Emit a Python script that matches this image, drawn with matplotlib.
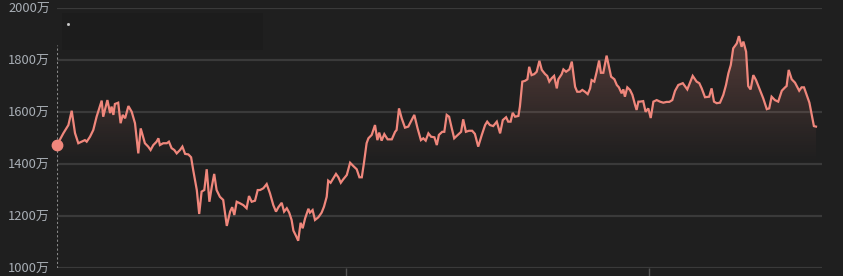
import numpy as np
import matplotlib.pyplot as plt
from matplotlib.patches import Rectangle
from matplotlib.path import Path

plt.rcParams['font.family'] = ['Noto Sans CJK SC', 'DejaVu Sans']

# 数据: 交易日序号, 金额(万)
days = [0, 2.1, 3.8, 4.9, 6, 7.1, 8.2, 9.3, 9.9, 11, 12.1, 13.2, 14.9, 15.4, 16.8, 17.7,
        18.2, 18.8, 19.3, 20.4, 21.2, 21.9, 22.7, 23.8, 24.9, 26, 27.1, 27.9, 29.3, 30.4,
        31.2, 32.1, 33.2, 33.8, 34.3, 35.4, 36.6, 37.3, 38.2, 39.1, 39.9, 41, 41.8, 42.7,
        43.8, 44.7, 45.4, 46.6, 47.4, 48.2, 49.1, 49.9, 50.8, 51.6, 52.4, 53.2, 54.3, 55.4,
        56.6, 57.7, 58.4, 59.1, 59.9, 61, 62.1, 63.2, 64, 64.9, 66, 66.9, 67.7, 68.8, 69.9,
        71, 72.1, 73, 73.8, 74.9, 75.7, 76.6, 77.4, 78.2, 78.8, 79.7, 80.4, 81.2, 81.9, 82.7,
        83.8, 84.3, 85.2, 86, 87.1, 88.2, 89, 89.9, 90.4, 91.2, 92.1, 93, 93.8, 94.6, 95.4,
        96.6, 97.7, 98.8, 99.9, 100.8, 101.6, 102.3, 103.2, 103.8, 104.9, 106, 106.8, 107.4,
        108.2, 109.1, 110.2, 111.6, 112.7, 113.2, 114, 114.9, 116, 117.1, 118.2, 119.1,
        120.2, 121.3, 122.1, 122.9, 123.8, 124.7, 125.8, 126.6, 127.3, 128.4, 129.1, 129.9,
        130.7, 131.6, 132.4, 133.6, 134.7, 135.4, 136.3, 137.3, 138.4, 139.3, 140.4, 141.6,
        142.7, 143.4, 144.3, 145.4, 146.6, 147.7, 148.6, 149.7, 150.4, 151.2, 151.9, 152.7,
        153.8, 154.3, 155.1, 156, 156.8, 157.4, 158.2, 159.1, 159.9, 160.8, 161.6, 162.7,
        163.4, 164.1, 164.9, 165.7, 166.6, 167.1, 168.2, 168.8, 169.7, 170.8, 171.6, 172.7,
        173.4, 174.3, 175.1, 176, 176.9, 177.7, 178.2, 179.1, 179.9, 180.7, 181.3, 182.1,
        183.2, 184, 184.7, 185.8, 186.6, 187.3, 188.2, 188.8, 189.3, 190.1, 191, 191.8,
        192.7, 193.2, 193.8, 194.3, 195.4, 196.2, 197.1, 197.9, 198.8, 199.9, 201, 202.1,
        203.2, 204.1, 205.1, 206, 207.1, 208.6, 210.1, 211.9, 213.2, 214.1, 214.9, 216,
        217.4, 218.2, 219, 219.9, 221, 222.1, 223, 223.8, 224.6, 225.4, 226.6, 227.3, 228.2,
        228.8, 229.7, 230.4, 231.2, 232.1, 233, 234.1, 235.4, 236.6, 237.4, 238.2, 239.3,
        240.4, 241.6, 242.7, 243.2, 243.9, 244.9, 246, 246.8, 247.4, 248.2, 249, 249.9,
        250.8, 251.6, 252.3, 253]
values = [1474, 1519, 1551, 1606, 1520, 1481, 1487, 1493, 1487, 1506, 1532, 1583, 1645, 1583,
          1647, 1597, 1622, 1590, 1632, 1637, 1558, 1590, 1577, 1624, 1602, 1558, 1442, 1538,
          1481, 1468, 1455, 1474, 1487, 1500, 1474, 1481, 1481, 1487, 1462, 1455, 1442, 1455,
          1468, 1440, 1438, 1427, 1378, 1301, 1209, 1295, 1301, 1381, 1256, 1314, 1363, 1301,
          1275, 1263, 1163, 1218, 1235, 1205, 1256, 1250, 1243, 1231, 1278, 1256, 1260, 1301,
          1301, 1308, 1324, 1288, 1243, 1218, 1235, 1252, 1218, 1231, 1214, 1186, 1145, 1124,
          1106, 1175, 1154, 1192, 1229, 1214, 1224, 1186, 1196, 1214, 1237, 1275, 1337, 1329,
          1346, 1363, 1350, 1329, 1342, 1359, 1406, 1393, 1381, 1350, 1350, 1404, 1481, 1500,
          1513, 1551, 1493, 1522, 1491, 1516, 1496, 1496, 1525, 1532, 1615, 1577, 1541, 1545,
          1570, 1590, 1538, 1493, 1500, 1491, 1519, 1506, 1504, 1474, 1513, 1525, 1525, 1590,
          1583, 1538, 1500, 1513, 1525, 1573, 1525, 1529, 1529, 1517, 1468, 1513, 1551, 1564,
          1551, 1547, 1564, 1519, 1570, 1581, 1564, 1564, 1598, 1583, 1586, 1622, 1718, 1721,
          1727, 1775, 1743, 1747, 1756, 1798, 1763, 1747, 1740, 1718, 1731, 1740, 1692, 1727,
          1746, 1765, 1756, 1765, 1795, 1698, 1679, 1679, 1686, 1679, 1670, 1692, 1724, 1718,
          1756, 1799, 1752, 1752, 1818, 1775, 1737, 1727, 1705, 1696, 1673, 1688, 1660, 1696,
          1686, 1667, 1628, 1609, 1641, 1641, 1643, 1602, 1615, 1578, 1641, 1647, 1641, 1637,
          1640, 1640, 1647, 1682, 1705, 1712, 1688, 1740, 1718, 1712, 1692, 1658, 1660, 1692,
          1641, 1635, 1637, 1667, 1705, 1750, 1782, 1846, 1865, 1893, 1852, 1872, 1833, 1701,
          1688, 1743, 1724, 1692, 1654, 1612, 1615, 1660, 1647, 1641, 1683, 1696, 1701, 1763,
          1727, 1714, 1696, 1683, 1696, 1696, 1667, 1637, 1590, 1547, 1545]
y_ticks = [1000, 1200, 1400, 1600, 1800, 2000]
y_labels = ['1000万', '1200万', '1400万', '1600万', '1800万', '2000万']
x_ticks = [96.3, 197.3]

bg = '#1f1f1f'
line_color = '#f0877c'
grid_color = '#3a3a3a'

fig = plt.figure(figsize=(8.43, 2.76), dpi=100, facecolor=bg)
ax = fig.add_axes([57 / 843, (276 - 268.3) / 276, 765 / 843, 260 / 276])
ax.set_facecolor(bg)
ax.set_xlim(0, 255)
ax.set_ylim(1000, 2000)

for s in ax.spines.values():
    s.set_visible(False)

ax.set_yticks(y_ticks)
ax.set_yticklabels(y_labels, fontsize=9.3, color='#a8aeb5')
ax.tick_params(axis='y', length=0, pad=5)
ax.set_xticks(x_ticks)
ax.set_xticklabels([])
ax.tick_params(axis='x', length=6, width=1, color='#555555', direction='out')
ax.grid(axis='y', color=grid_color, linewidth=1.6)
ax.set_axisbelow(True)

# 提示框区域(很淡)
ax.add_patch(Rectangle((1.7, 1840), 67, 140, facecolor='#1c1c1c', edgecolor='none', zorder=0.5))
ax.plot([3.7], [1940], marker='s', markersize=1.0, color='#cccccc', zorder=3)

# 渐变填充
base = 1400
x = np.array(days)
y = np.array(values)
poly = ax.fill_between(x, y, base, where=y >= base, interpolate=True,
                       facecolor='none', edgecolor='none')
grad = np.linspace(0, 1, 256).reshape(-1, 1)
rgba = np.zeros((256, 1, 4))
rgba[..., 0] = 0.93
rgba[..., 1] = 0.55
rgba[..., 2] = 0.50
rgba[..., 3] = (grad ** 1.1) * 0.27
img = ax.imshow(rgba, extent=[0, 255, base, 1900], origin='lower',
                aspect='auto', zorder=1)
img.set_clip_path(Path.make_compound_path(*poly.get_paths()), transform=ax.transData)

ax.plot(x, y, color=line_color, linewidth=1.6, zorder=3, solid_joinstyle='miter')

# 十字线与起点
ax.vlines(0, 1000, 1860, colors='#888888', linestyles=(0, (2, 2)), linewidth=0.8, zorder=2)
ax.plot([days[0]], [values[0]], 'o', color=line_color, markersize=7.5, zorder=4, clip_on=False)

fig.savefig('out.png', dpi=100, facecolor=bg)
